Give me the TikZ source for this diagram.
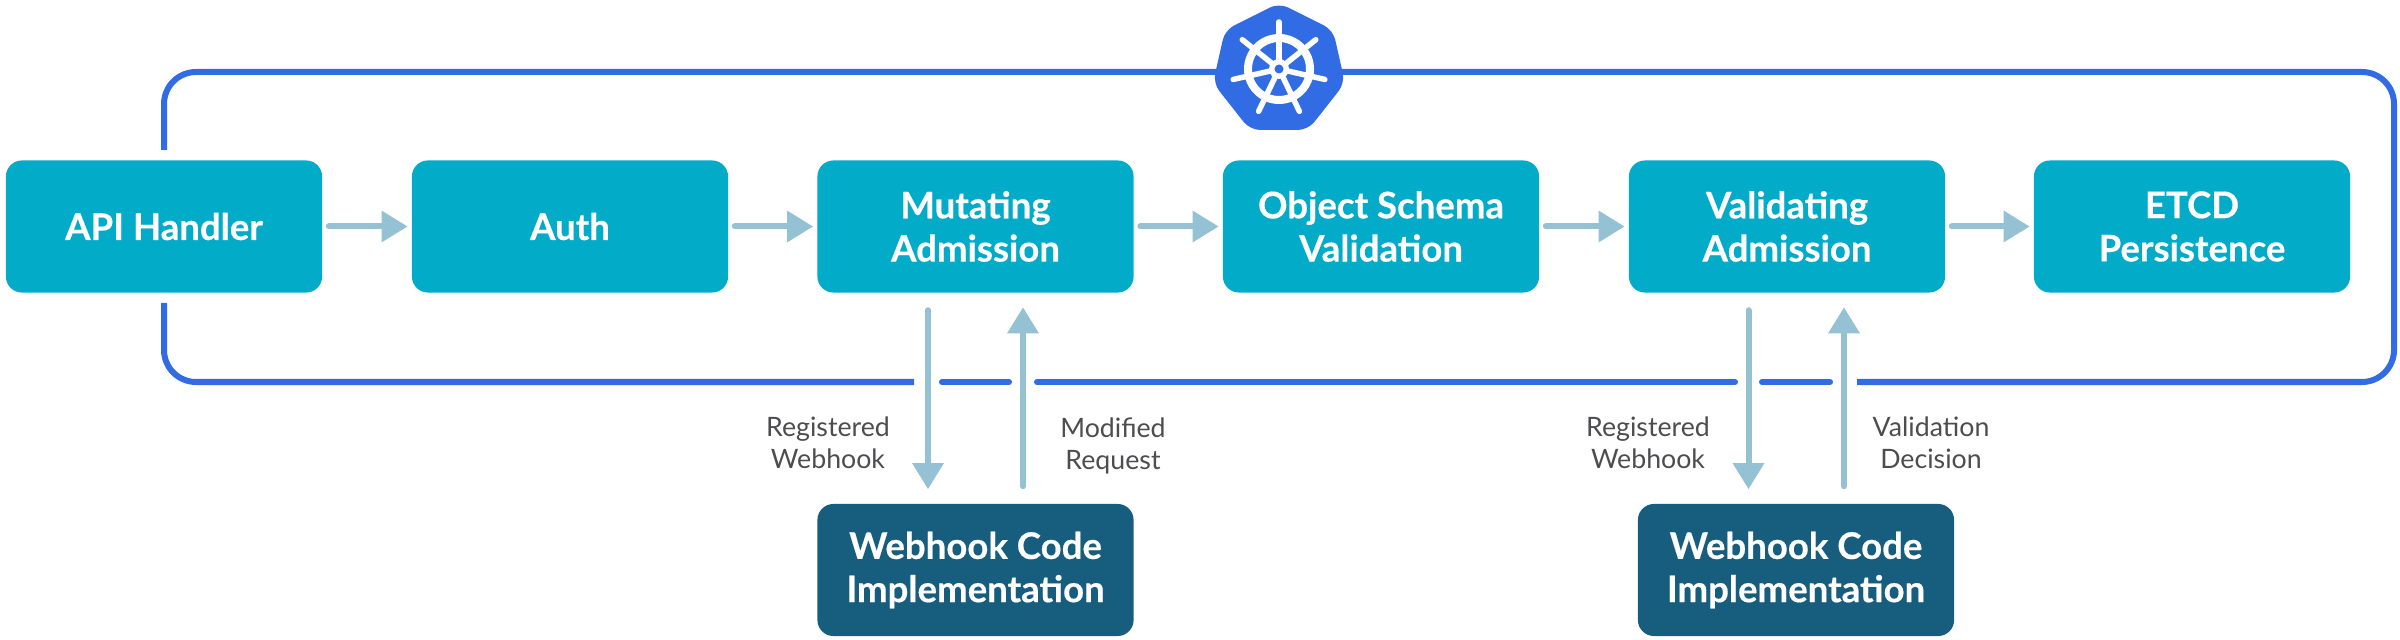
\documentclass[tikz,border=0pt]{standalone}
\usepackage{fontspec}
\setmainfont{Lato}[BoldFeatures={FakeBold=0.4}]
\usetikzlibrary{calc}
\usetikzlibrary{arrows.meta}

\definecolor{stagecol}{HTML}{02ABC7}
\definecolor{hookcol}{HTML}{175E7E}
\definecolor{ringcol}{HTML}{326CE5}
\definecolor{flowcol}{HTML}{94C2D4}
\definecolor{notecol}{HTML}{4D4D4F}

\tikzset{
  stagebox/.style={fill=stagecol, text=white, rounded corners=0.16cm, inner sep=0pt,
    minimum width=3.16cm, minimum height=1.32cm, align=center,
    font=\fontsize{10.4pt}{12.3pt}\selectfont\bfseries},
  hookbox/.style={stagebox, fill=hookcol},
  note/.style={text=notecol, align=center, inner sep=0pt,
    font=\fontsize{7.6pt}{9.1pt}\selectfont},
  ring/.style={draw=ringcol, line width=0.06cm},
  flow/.style={draw=flowcol, line width=0.06cm, line cap=round,
    -{Triangle[length=0.26cm, width=0.3cm]}},
  flowh/.style={flow, shorten <=0.06cm, shorten >=0.035cm},
  flowv/.style={flow, shorten <=0.17cm, shorten >=0.14cm}
}

\begin{document}
\begin{tikzpicture}[x=0.01cm, y=-0.01cm]
\useasboundingbox (0,0) rectangle (2400,640);

% loop behind the boxes
\draw[ring, rounded corners=0.32cm] (164,150) -- (164,72) -- (2394,72) -- (2394,382) -- (1857,382);
\draw[ring, line cap=round] (1830,382) -- (1762,382);
\draw[ring, line cap=round] (1735,382) -- (1037,382);
\draw[ring, line cap=round] (1009,382) -- (942,382);
\draw[ring, rounded corners=0.32cm] (914,382) -- (164,382) -- (164,303);

% stages
\node[stagebox] (Api) at (164,226.5) {API Handler};
\node[stagebox] (Auth) at (570,226.5) {Auth};
\node[stagebox] (Mut) at (975.5,226.5) {Mutating\\Admission};
\node[stagebox] (Schema) at (1381,226.5) {Object Schema\\Validation};
\node[stagebox] (Val) at (1787,226.5) {Validating\\Admission};
\node[stagebox] (Etcd) at (2192,226.5) {ETCD\\Persistence};

\node[hookbox] (HookA) at (975.5,570) {Webhook Code\\Implementation};
\node[hookbox] (HookB) at (1796,570) {Webhook Code\\Implementation};

\draw[flowh] (Api) -- (Auth);
\draw[flowh] (Auth) -- (Mut);
\draw[flowh] (Mut) -- (Schema);
\draw[flowh] (Schema) -- (Val);
\draw[flowh] (Val) -- (Etcd);

\coordinate (MutDown) at ($(Mut.south)+(-47.5,0)$);
\coordinate (MutUp) at ($(Mut.south)+(47.5,0)$);
\coordinate (ValDown) at ($(Val.south)+(-38.5,0)$);
\coordinate (ValUp) at ($(Val.south)+(57,0)$);

\draw[flowv] (MutDown) -- (MutDown |- HookA.north);
\draw[flowv] (MutUp |- HookA.north) -- (MutUp);
\draw[flowv] (ValDown) -- (ValDown |- HookB.north);
\draw[flowv] (ValUp |- HookB.north) -- (ValUp);

\node[note] (RegA) at (828,443) {Registered\\Webhook};
\node[note] (ModA) at (1113,446) {Modified\\Request};
\node[note] (RegB) at (1648,443) {Registered\\Webhook};
\node[note] (DecB) at (1931,443) {Validation\\Decision};

% logo
\coordinate (Helm) at (1279,69);
\fill[ringcol, rounded corners=0.1cm] (1279,3) -- (1333,30) -- (1345,83) -- (1308,130) -- (1250,130) -- (1213,83) -- (1225,30) -- cycle;
\draw[white, line width=0.08cm] (Helm) circle [radius=31];
\foreach \ang in {90,141.43,192.86,244.29,295.71,347.14,38.57} {
  \draw[white, line width=0.055cm, line cap=round] (Helm) -- ++(\ang:-47);
}
\fill[white] (Helm) circle [radius=10];
\fill[ringcol] (Helm) circle [radius=4.5];
\end{tikzpicture}
\end{document}
